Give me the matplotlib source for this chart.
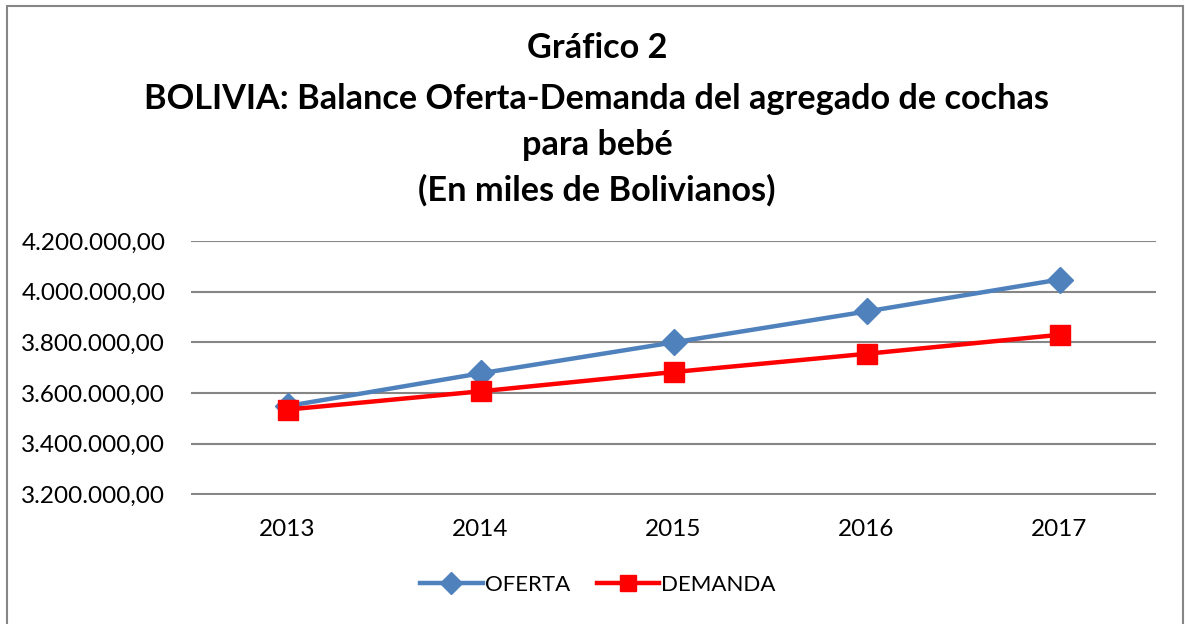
import matplotlib.pyplot as plt
from matplotlib.patches import Rectangle
from matplotlib.ticker import FuncFormatter

plt.rcParams['font.family'] = ['Lato', 'DejaVu Sans']

years = ['2013', '2014', '2015', '2016', '2017']
oferta = [3549000, 3678000, 3800000, 3922000, 4048000]
demanda = [3535000, 3607000, 3683000, 3755000, 3830000]

title_lines = ['Gráfico 2',
               'BOLIVIA: Balance Oferta-Demanda del agregado de cochas',
               'para bebé',
               '(En miles de Bolivianos)']

fig = plt.figure(figsize=(11.85, 6.24), dpi=100)
ax = fig.add_axes([191 / 1185, 1 - 494.5 / 624, 965 / 1185, 253.5 / 624])

x = range(len(years))
ax.plot(x, oferta, color='#4F81BD', lw=3.2, marker='D', ms=13.5, label='OFERTA', zorder=3)
ax.plot(x, demanda, color='#FF0000', lw=3.2, marker='s', ms=14.5, label='DEMANDA', zorder=4)

ax.set_xlim(-0.5, len(years) - 0.5)
ax.set_ylim(3200000, 4200000)
ax.set_yticks(range(3200000, 4200001, 200000))
ax.yaxis.set_major_formatter(FuncFormatter(
    lambda v, p: '{:,.2f}'.format(v).replace(',', 'X').replace('.', ',').replace('X', '.')))
ax.set_xticks(list(x))
ax.set_xticklabels(years)
ax.grid(axis='y', color='#868686', lw=1.5)
ax.set_axisbelow(True)
for s in ax.spines.values():
    s.set_visible(False)
ax.tick_params(length=0, labelsize=17.5, colors='black')
ax.tick_params(axis='y', pad=18.5)
ax.tick_params(axis='x', pad=18)

ypos = [48, 99, 145, 190]
for t, yp in zip(title_lines, ypos):
    fig.text(597 / 1185, 1 - yp / 624, t, ha='center', va='center',
             fontsize=24.7, fontweight='bold')

fig.legend(loc='center', bbox_to_anchor=(598 / 1185, 1 - 585 / 624), ncol=2,
           frameon=False, fontsize=16, handlelength=2.8, columnspacing=1.2,
           handletextpad=0.1, markerscale=0.8)

fig.patches.append(Rectangle((7 / 1185, -0.05), 1176 / 1185, 1.05 - 6 / 624,
                             transform=fig.transFigure, fill=False,
                             edgecolor='#868686', lw=1.5))

fig.savefig('out.png', dpi=100)
